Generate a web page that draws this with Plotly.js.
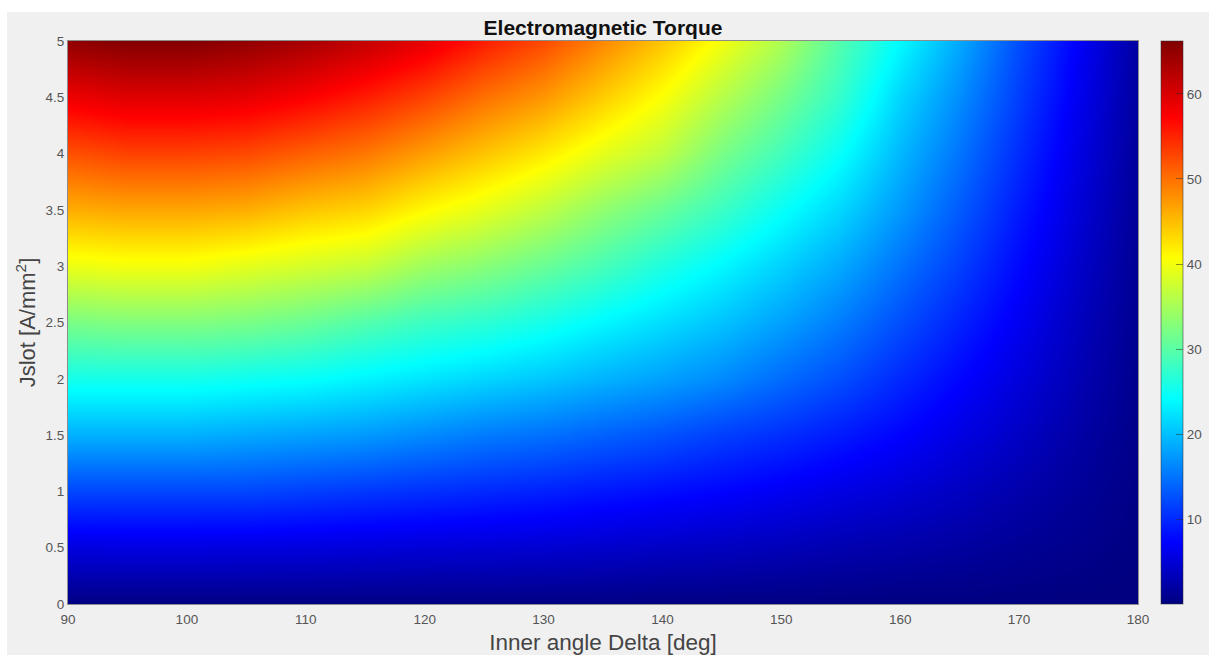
<!DOCTYPE html>
<html><head><meta charset="utf-8">
<script src="https://cdn.plot.ly/plotly-3.0.1.min.js"></script>
<style>html,body{margin:0;padding:0;background:#fff;overflow:hidden}
#p{position:absolute;left:7px;top:12px;width:1202px;height:643px}</style>
</head><body><div id="p"></div>
<script>
const deltaDeg = [90,95,100,105,110,115,120,125,130,135,140,145,150,155,160,165,170,175,180];
const jslot = [0,0.5,1,1.5,2,2.5,3,3.5,4,4.5,5];
const torqueJ0  = [0.3,0.3,0.3,0.3,0.3,0.3,0.3,0.3,0.3,0.3,0.2,0.2,0.2,0.15,0.1,0.1,0.1,0.05,0.02];
const torqueJ05 = [5.5,5.6,5.6,5.5,5.4,5.2,5,4.9,4.7,4.4,4,3.7,3.3,2.8,2.4,1.9,1.3,0.8,0.2];
const torqueJ10 = [12,12,12,12,11.5,11,10.5,10,9.5,8.8,8.2,7.5,6.7,5.8,4.9,3.8,2.6,1.5,0.4];
const torqueJ15 = [19,19,19,18.5,18,17.5,16.5,15.5,14.8,13.8,12.8,11.5,10.4,9,7.5,5.7,4,2.2,0.6];
const torqueJ20 = [25.5,25.5,25.5,25,24.5,23.5,22.5,21.5,20.5,19.2,18,16.5,14.5,12.5,10,7.6,5.3,3,0.8];
const torqueJ25 = [32,32.5,32.5,32,31,29.5,28,27,25.5,23.7,22,20.2,18,15.5,12.5,9.5,6.6,3.6,1];
const torqueJ30 = [39.5,40,40,39,38,37,34.5,33,31,28.8,26.2,23.8,21.2,18.5,15,11.5,7.8,4.3,1.2];
const torqueJ35 = [46,46.5,46.5,46,44.5,43.5,41,39,36.5,33.5,31,28,24.7,21.5,17.5,13.3,9,5,1.4];
const torqueJ40 = [52,53,53,52.5,51,49.5,47,44.5,42,39,36.5,32,28.5,24.5,19.5,15,10.2,5.7,1.6];
const torqueJ45 = [58.5,59.5,59.5,59,57.5,55.5,53,50,47.5,44,40.5,36,32,27.5,21.5,16.7,11.4,6.4,1.8];
const torqueJ50 = [65,66,66,65,63.5,61.5,59,55.5,52.5,48.5,44.5,40,35.5,29.5,24,18.5,12.5,7,2];
const torque = [torqueJ0,torqueJ05,torqueJ10,torqueJ15,torqueJ20,torqueJ25,torqueJ30,torqueJ35,torqueJ40,torqueJ45,torqueJ50];
const xTicks = [90,100,110,120,130,140,150,160,170,180];
const yTicks = [0,0.5,1,1.5,2,2.5,3,3.5,4,4.5,5];
const cbTicks = [10,20,30,40,50,60];
const jet = [[0,'rgb(0,0,128)'],[0.11,'rgb(0,0,255)'],[0.365,'rgb(0,255,255)'],[0.615,'rgb(255,255,0)'],[0.865,'rgb(255,0,0)'],[1,'rgb(128,0,0)']];
const fam = '"Liberation Sans", Arial, sans-serif';
const lineC = 'rgba(40,40,40,0.5)';
Plotly.newPlot('p',[{
  type:'heatmap', x:deltaDeg, y:jslot, z:torque, zsmooth:'best',
  zmin:0.1, zmax:66.2, colorscale:jet,
  colorbar:{x:1.0215,xanchor:'left',xpad:0,ypad:0,y:0.5,len:1,thickness:22,
    tickvals:cbTicks,ticks:'inside',ticklen:7,tickcolor:'rgba(40,40,40,0.5)',tickwidth:1,
    outlinewidth:1,outlinecolor:lineC,tickfont:{family:fam,size:13.5,color:'#555'}}
}],{
  width:1202,height:643,
  margin:{l:61,r:71,t:29,b:51,pad:0,autoexpand:false},
  paper_bgcolor:'#f0f0f0',plot_bgcolor:'#f0f0f0',
  title:{text:'<b>Electromagnetic Torque</b>',font:{family:fam,size:21,color:'#111'},x:0.5,xref:'paper',xanchor:'center',y:0.975,yanchor:'middle'},
  xaxis:{range:[90,180],tickvals:xTicks,ticks:'',showgrid:false,zeroline:false,showline:true,mirror:true,linecolor:lineC,linewidth:1,
    ticklabelstandoff:3,tickfont:{family:fam,size:13.5,color:'#555'},
    title:{text:'Inner angle Delta [deg]',font:{family:fam,size:22.5,color:'#444'},standoff:10}},
  yaxis:{range:[0,5],tickvals:yTicks,ticktext:yTicks.map(String),ticks:'',showgrid:false,zeroline:false,showline:true,mirror:true,linecolor:lineC,linewidth:1,
    tickfont:{family:fam,size:13.5,color:'#555'},
    title:{text:'Jslot [A/mm<sup>2</sup>]',font:{family:fam,size:22,color:'#444'},standoff:3}}
},{displayModeBar:false,responsive:false});
</script></body></html>
